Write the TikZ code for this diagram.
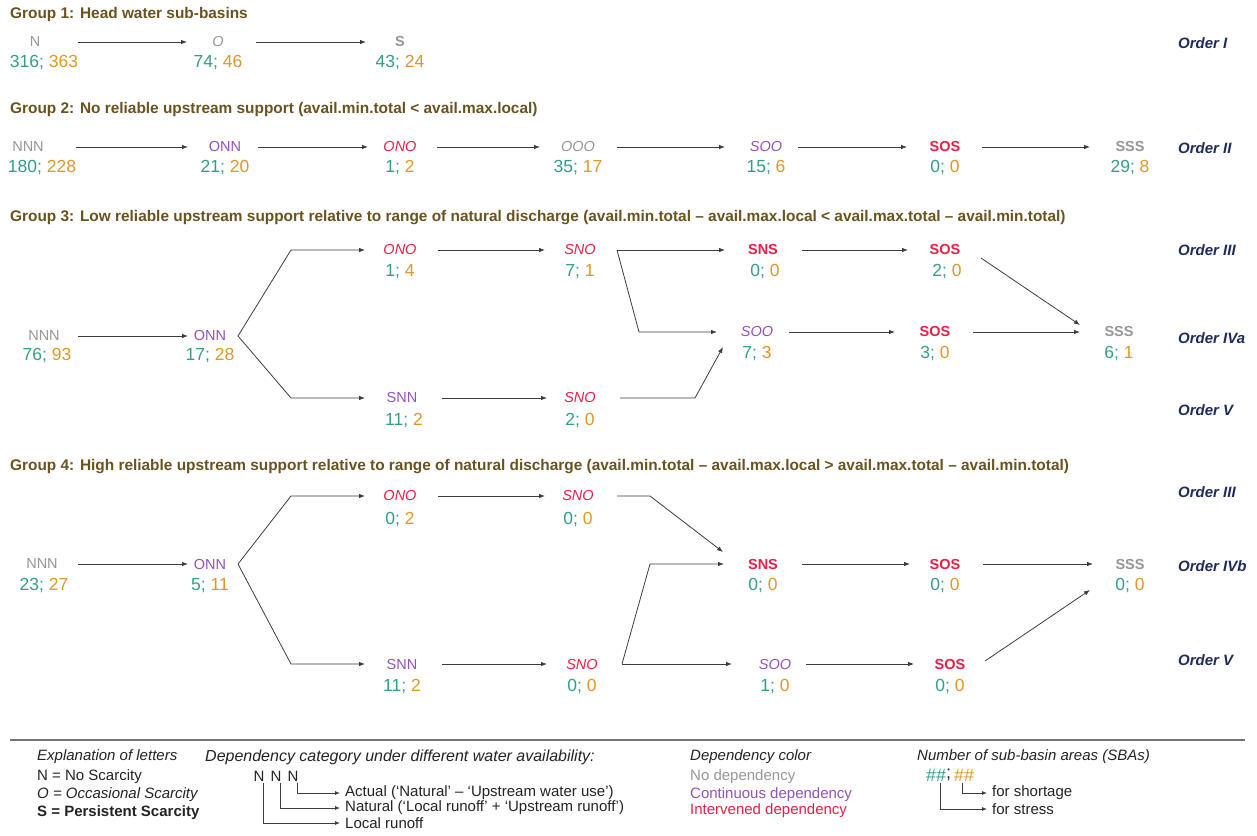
\documentclass[tikz,border=0pt]{standalone}
\usepackage{fontspec}
\setmainfont{Liberation Sans}
\usetikzlibrary{arrows.meta,calc}
\definecolor{cteal}{RGB}{50,158,138}
\definecolor{corange}{RGB}{226,150,40}
\definecolor{cgray}{RGB}{150,150,150}
\definecolor{cpurple}{RGB}{150,80,190}
\definecolor{cred}{RGB}{236,30,70}
\definecolor{ctitle}{RGB}{105,82,30}
\definecolor{cnavy}{RGB}{30,42,95}
\definecolor{cline}{RGB}{60,60,60}
\definecolor{ctext}{RGB}{35,35,35}
\definecolor{csep}{RGB}{115,115,115}
\newcommand{\nmpair}[2]{\textcolor{cteal}{#1;} \textcolor{corange}{#2}}
\begin{document}
\begin{tikzpicture}[x=1pt,y=-1pt,
  lbl/.style={inner sep=0pt, font=\fontsize{14.5}{16}\selectfont},
  num/.style={inner sep=0pt, font=\fontsize{17.5}{19}\selectfont},
  ttl/.style={anchor=west, inner sep=0pt, text=ctitle, font=\fontsize{15.4}{17}\selectfont\bfseries},
  ord/.style={anchor=west, inner sep=0pt, text=cnavy, font=\fontsize{15}{17}\selectfont\bfseries\itshape},
  leg/.style={anchor=west, inner sep=0pt, text=ctext, font=\fontsize{15}{17}\selectfont},
  hsh/.style={anchor=center, inner sep=0pt, font=\fontsize{18}{20}\selectfont},
  arr/.style={draw=cline, line width=0.8pt, -{Latex[length=6pt,width=4.5pt]}},
  legarr/.style={draw=cline, line width=0.8pt, -{Latex[length=5pt,width=4pt]}, shorten >=5pt},
  ]
\useasboundingbox (0,0) rectangle (1257,835);

% ---------------- Group 1
\node[ttl] (t1) at (10,15) {Group 1: Head water sub-basins};
\node[lbl,text=cgray] (g1a) at (35,42) {N};
\node[num] (g1an) at (44,63) {\nmpair{316}{363}};
\node[lbl,text=cgray] (g1b) at (218,42) {\itshape O};
\node[num] (g1bn) at (218,63) {\nmpair{74}{46}};
\node[lbl,text=cgray] (g1c) at (400,42) {\bfseries S};
\node[num] (g1cn) at (400,63) {\nmpair{43}{24}};
\draw[arr] ($(g1a)+(43,0)$) -- ($(g1b)+(-31,0)$);
\draw[arr] ($(g1b)+(38,0)$) -- ($(g1c)+(-34,0)$);
\node[ord] (o1) at (1178,43) {Order I};

% ---------------- Group 2
\node[ttl] (t2) at (10,110) {Group 2: No reliable upstream support (avail.min.total < avail.max.local)};
\node[lbl,text=cgray] (g2a) at (28,147) {NNN};
\node[num] (g2an) at (42,168) {\nmpair{180}{228}};
\node[lbl,text=cpurple] (g2b) at (225,147) {ONN};
\node[num] (g2bn) at (225,168) {\nmpair{21}{20}};
\node[lbl,text=cred] (g2c) at (400,147) {\itshape ONO};
\node[num] (g2cn) at (400,168) {\nmpair{1}{2}};
\node[lbl,text=cgray] (g2d) at (578,147) {\itshape OOO};
\node[num] (g2dn) at (578,168) {\nmpair{35}{17}};
\node[lbl,text=cpurple] (g2e) at (766,147) {\itshape SOO};
\node[num] (g2en) at (766,168) {\nmpair{15}{6}};
\node[lbl,text=cred] (g2f) at (945,147) {\bfseries SOS};
\node[num] (g2fn) at (945,168) {\nmpair{0}{0}};
\node[lbl,text=cgray] (g2g) at (1130,147) {\bfseries SSS};
\node[num] (g2gn) at (1130,168) {\nmpair{29}{8}};
\draw[arr] ($(g2a)+(48,0)$) -- ($(g2b)+(-37,0)$);
\draw[arr] ($(g2b)+(33,0)$) -- ($(g2c)+(-32,0)$);
\draw[arr] ($(g2c)+(37,0)$) -- ($(g2d)+(-38,0)$);
\draw[arr] ($(g2d)+(39,0)$) -- ($(g2e)+(-41,0)$);
\draw[arr] ($(g2e)+(32,0)$) -- ($(g2f)+(-38,0)$);
\draw[arr] ($(g2f)+(37,0)$) -- ($(g2g)+(-40,0)$);
\node[ord] (o2) at (1178,148) {Order II};

% ---------------- Group 3
\node[ttl] (t3) at (10,218) {Group 3: Low reliable upstream support relative to range of natural discharge (avail.min.total – avail.max.local < avail.max.total – avail.min.total)};
\node[lbl,text=cgray] (g3a) at (44,336) {NNN};
\node[num] (g3an) at (47,356) {\nmpair{76}{93}};
\node[lbl,text=cpurple] (g3b) at (210,336) {ONN};
\node[num] (g3bn) at (210,356) {\nmpair{17}{28}};
\node[lbl,text=cred] (g3c) at (400,250) {\itshape ONO};
\node[num] (g3cn) at (400,272) {\nmpair{1}{4}};
\node[lbl,text=cred] (g3d) at (580,250) {\itshape SNO};
\node[num] (g3dn) at (580,272) {\nmpair{7}{1}};
\node[lbl,text=cred] (g3e) at (763,250) {\bfseries SNS};
\node[num] (g3en) at (765,272) {\nmpair{0}{0}};
\node[lbl,text=cred] (g3f) at (945,250) {\bfseries SOS};
\node[num] (g3fn) at (947,272) {\nmpair{2}{0}};
\node[lbl,text=cpurple] (g3g) at (757,332) {\itshape SOO};
\node[num] (g3gn) at (757,354) {\nmpair{7}{3}};
\node[lbl,text=cred] (g3h) at (935,332) {\bfseries SOS};
\node[num] (g3hn) at (935,354) {\nmpair{3}{0}};
\node[lbl,text=cgray] (g3i) at (1119,332) {\bfseries SSS};
\node[num] (g3in) at (1119,354) {\nmpair{6}{1}};
\node[lbl,text=cpurple] (g3j) at (402,398) {SNN};
\node[num] (g3jn) at (404,421) {\nmpair{11}{2}};
\node[lbl,text=cred] (g3k) at (580,398) {\itshape SNO};
\node[num] (g3kn) at (580,421) {\nmpair{2}{0}};
\coordinate (b3u) at (291,250);
\coordinate (b3d) at (291,398);
\coordinate (b3m) at (639,332);
\coordinate (b3l) at (695,398);
\draw[arr] ($(g3a)+(34,0)$) -- ($(g3b)+(-22,0)$);
\draw[arr] ($(g3b)+(28,0)$) -- (b3u) -- ($(g3c)+(-35,0)$);
\draw[arr] ($(g3b)+(28,0)$) -- (b3d) -- ($(g3j)+(-37,0)$);
\draw[arr] ($(g3c)+(38,0)$) -- ($(g3d)+(-35,0)$);
\draw[arr] ($(g3d)+(37,0)$) -- ($(g3e)+(-38,0)$);
\draw[arr] ($(g3d)+(37,0)$) -- (b3m) -- ($(g3g)+(-40,0)$);
\draw[arr] ($(g3e)+(39,0)$) -- ($(g3f)+(-37,0)$);
\draw[arr] ($(g3f)+(36,8)$) -- ($(g3i)+(-39,-7)$);
\draw[arr] ($(g3g)+(32,0)$) -- ($(g3h)+(-40,0)$);
\draw[arr] ($(g3h)+(38,0)$) -- ($(g3i)+(-39,0)$);
\draw[arr] ($(g3j)+(40,0)$) -- ($(g3k)+(-33,0)$);
\draw[arr] ($(g3k)+(40,0)$) -- (b3l) -- ($(g3g)+(-34,15)$);
\node[ord] (o3a) at (1178,250) {Order III};
\node[ord] (o3b) at (1178,338) {Order IVa};
\node[ord] (o3c) at (1178,410) {Order V};

% ---------------- Group 4
\node[ttl] (t4) at (10,467) {Group 4: High reliable upstream support relative to range of natural discharge (avail.min.total – avail.max.local > avail.max.total – avail.min.total)};
\node[lbl,text=cgray] (g4a) at (42,564) {NNN};
\node[num] (g4an) at (44,586) {\nmpair{23}{27}};
\node[lbl,text=cpurple] (g4b) at (210,564) {ONN};
\node[num] (g4bn) at (210,586) {\nmpair{5}{11}};
\node[lbl,text=cred] (g4c) at (400,496) {\itshape ONO};
\node[num] (g4cn) at (400,520) {\nmpair{0}{2}};
\node[lbl,text=cred] (g4d) at (578,496) {\itshape SNO};
\node[num] (g4dn) at (578,520) {\nmpair{0}{0}};
\node[lbl,text=cpurple] (g4e) at (402,664) {SNN};
\node[num] (g4en) at (402,686) {\nmpair{11}{2}};
\node[lbl,text=cred] (g4f) at (582,664) {\itshape SNO};
\node[num] (g4fn) at (582,686) {\nmpair{0}{0}};
\node[lbl,text=cred] (g4g) at (763,564) {\bfseries SNS};
\node[num] (g4gn) at (763,586) {\nmpair{0}{0}};
\node[lbl,text=cred] (g4h) at (945,564) {\bfseries SOS};
\node[num] (g4hn) at (945,586) {\nmpair{0}{0}};
\node[lbl,text=cgray] (g4i) at (1130,564) {\bfseries SSS};
\node[num] (g4in) at (1130,586) {\nmpair{0}{0}};
\node[lbl,text=cpurple] (g4j) at (775,664) {\itshape SOO};
\node[num] (g4jn) at (775,686) {\nmpair{1}{0}};
\node[lbl,text=cred] (g4k) at (950,664) {\bfseries SOS};
\node[num] (g4kn) at (950,686) {\nmpair{0}{0}};
\coordinate (b4u) at (291,496);
\coordinate (b4d) at (291,664);
\coordinate (b4a) at (650,496);
\coordinate (b4b) at (650,564);
\draw[arr] ($(g4a)+(36,0)$) -- ($(g4b)+(-22,0)$);
\draw[arr] ($(g4b)+(28,0)$) -- (b4u) -- ($(g4c)+(-35,0)$);
\draw[arr] ($(g4b)+(28,0)$) -- (b4d) -- ($(g4e)+(-37,0)$);
\draw[arr] ($(g4c)+(38,0)$) -- ($(g4d)+(-33,0)$);
\draw[arr] ($(g4e)+(40,0)$) -- ($(g4f)+(-35,0)$);
\draw[arr] ($(g4d)+(39,0)$) -- (b4a) -- ($(g4g)+(-40,-12)$);
\draw[arr] ($(g4f)+(40,0)$) -- (b4b) -- ($(g4g)+(-39,0)$);
\draw[arr] ($(g4f)+(40,0)$) -- ($(g4j)+(-43,0)$);
\draw[arr] ($(g4g)+(39,0)$) -- ($(g4h)+(-35,0)$);
\draw[arr] ($(g4h)+(38,0)$) -- ($(g4i)+(-37,0)$);
\draw[arr] ($(g4j)+(31,0)$) -- ($(g4k)+(-36,0)$);
\draw[arr] ($(g4k)+(35,-3)$) -- ($(g4i)+(-40,26)$);
\node[ord] (o4a) at (1178,492) {Order III};
\node[ord] (o4b) at (1178,566) {Order IVb};
\node[ord] (o4c) at (1178,660) {Order V};

% ---------------- Legend
\coordinate (sepL) at (10,740);
\coordinate (sepR) at (1245,740);
\draw[draw=csep, line width=2.5pt] (sepL) -- (sepR);

\node[leg] (e0) at (37,757) {\itshape Explanation of letters};
\node[leg] (e1) at (37,777) {N = No Scarcity};
\node[leg] (e2) at (37,795) {\itshape O = Occasional Scarcity};
\node[leg] (e3) at (37,813) {\bfseries S = Persistent Scarcity};

\node[leg,font=\fontsize{16}{18}\selectfont\itshape] (d0) at (205,757) {Dependency category under different water availability:};
\node[leg,anchor=center] (ln1) at (259,776) {N};
\node[leg,anchor=center] (ln2) at (276,776) {N};
\node[leg,anchor=center] (ln3) at (293,776) {N};
\node[leg] (la) at (345,793) {Actual (‘Natural’ – ‘Upstream water use’)};
\node[leg] (lb) at (345,808) {Natural (‘Local runoff’ + ‘Upstream runoff’)};
\node[leg] (lc) at (345,823) {Local runoff};
\draw[legarr] ($(ln3.south)+(4,2)$) |- (la.west);
\draw[legarr] ($(ln2.south)+(4,2)$) |- (lb.west);
\draw[legarr] ($(ln1.south)+(4,2)$) |- (lc.west);

\node[leg] (c0) at (690,757) {\itshape Dependency color};
\node[leg,text=cgray] (c1) at (690,777) {No dependency};
\node[leg,text=cpurple] (c2) at (690,795) {Continuous dependency};
\node[leg,text=cred] (c3) at (690,811) {Intervened dependency};

\node[leg] (s0) at (917,757) {\itshape Number of sub-basin areas (SBAs)};
\node[hsh,text=cteal] (h1) at (936,775) {\#\#};
\node[hsh,text=ctext] (hs) at (948.5,775) {;};
\node[hsh,text=corange] (h2) at (964,775) {\#\#};
\node[leg] (fsh) at (992,793) {for shortage};
\node[leg] (fst) at (992,809) {for stress};
\draw[legarr] ($(h2.south)+(-2,2)$) |- (fsh.west);
\draw[legarr] ($(h1.south)+(4,2)$) |- (fst.west);
\end{tikzpicture}
\end{document}
